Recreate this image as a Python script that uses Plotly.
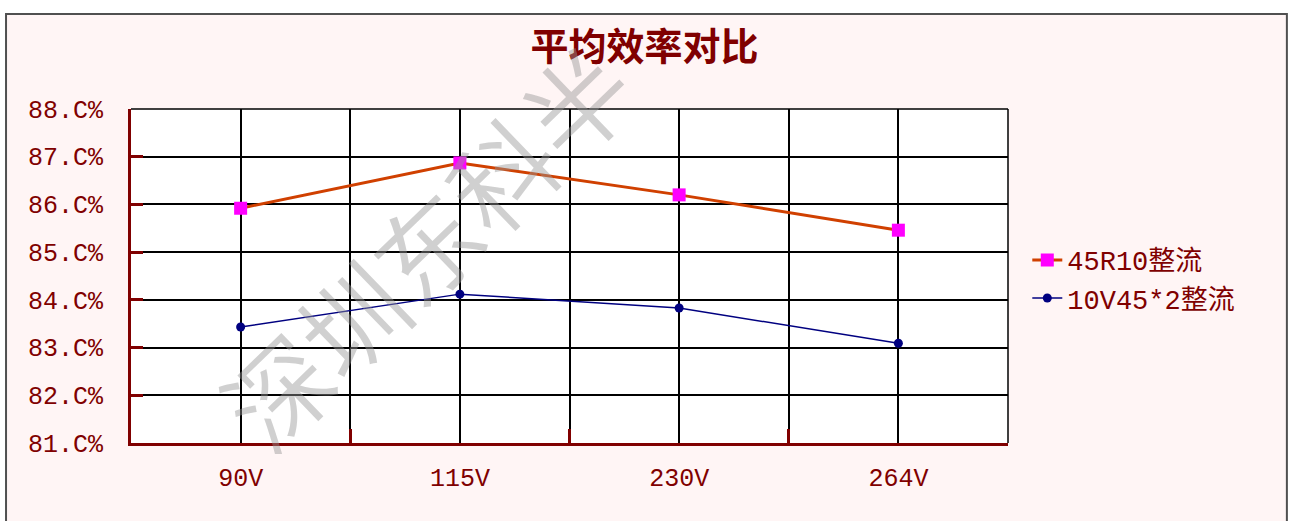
import plotly.graph_objects as go

# Input voltage categories and average efficiency (%) for the two rectifier setups
categories = ["90V", "115V", "230V", "264V"]
eff_45r10 = [85.92, 86.87, 86.20, 85.46]
eff_10v45x2 = [83.43, 84.12, 83.83, 83.09]
series_names = ["45R10整流", "10V45*2整流"]
y_ticks = [81, 82, 83, 84, 85, 86, 87, 88]
y_tick_labels = [f"{v}.C%" for v in y_ticks]
title_text = "平均效率对比"
watermark_text = "深圳东科半"

DARK_RED = "#800000"
PINK_BG = "#FFF5F5"
MONO = "Liberation Mono, 'Noto Sans CJK SC', monospace"

# each category sits in the middle of a pair of grid cells
x_pos = [2 * i + 1 for i in range(len(categories))]
x_max = 2 * len(categories)

fig = go.Figure()
fig.add_trace(go.Scatter(
    x=x_pos, y=eff_45r10, name=series_names[0], mode="lines+markers",
    line=dict(color="#D04000", width=3),
    marker=dict(symbol="square", size=13, color="#FF00FF"),
))
fig.add_trace(go.Scatter(
    x=x_pos, y=eff_10v45x2, name=series_names[1], mode="lines+markers",
    line=dict(color="#000080", width=1.5),
    marker=dict(symbol="circle", size=9, color="#000080"),
))

fig.update_layout(
    width=1289, height=521,
    margin=dict(l=131, r=281, t=109, b=78),
    paper_bgcolor="white",
    plot_bgcolor="rgba(0,0,0,0)",
    title=dict(text=f"<b>{title_text}</b>", x=0.5, xref="container", xanchor="center",
               y=1 - 47 / 521, yref="container", yanchor="middle",
               font=dict(family="'Noto Sans CJK SC'", size=38, color=DARK_RED)),
    showlegend=True,
    legend=dict(x=1.022, xanchor="left", y=0.49, yanchor="middle",
                bgcolor="rgba(0,0,0,0)", borderwidth=0, tracegroupgap=0,
                font=dict(family=MONO, size=27, color=DARK_RED)),
    xaxis=dict(
        range=[0, x_max], tickmode="array", tickvals=x_pos, ticktext=categories,
        showgrid=True, gridcolor="black", gridwidth=1.5, ticks="",
        showline=True, linecolor=DARK_RED, linewidth=3, zeroline=False,
        ticklabelstandoff=10,
        tickfont=dict(family=MONO, size=25, color=DARK_RED),
        minor=dict(tickmode="array", tickvals=list(range(2, x_max, 2)),
                   ticks="inside", ticklen=14, tickwidth=3, tickcolor=DARK_RED,
                   showgrid=True, gridcolor="black", gridwidth=1.5),
        fixedrange=True,
    ),
    yaxis=dict(
        range=[y_ticks[0], y_ticks[-1]], tickmode="array", tickvals=y_ticks,
        ticktext=y_tick_labels,
        showgrid=True, gridcolor="black", gridwidth=1.5,
        ticks="inside", ticklen=12, tickwidth=3, tickcolor=DARK_RED,
        showline=True, linecolor=DARK_RED, linewidth=3, zeroline=False,
        ticklabelstandoff=20,
        tickfont=dict(family=MONO, size=25, color=DARK_RED),
        fixedrange=True,
    ),
    shapes=[
        # outer chart frame with its pale pink fill
        dict(type="rect", xref="paper", yref="paper",
             x0=-0.1425, x1=1.318, y0=-0.5, y1=1.2844,
             fillcolor=PINK_BG, line=dict(color="#505050", width=2), layer="below"),
        # white plotting area
        dict(type="rect", xref="paper", yref="paper", x0=0, x1=1, y0=0, y1=1,
             fillcolor="white", line=dict(width=0), layer="below"),
        # black top and right borders of the plotting area
        dict(type="line", xref="paper", yref="paper", x0=0, x1=1, y0=1, y1=1,
             line=dict(color="black", width=1.5)),
        dict(type="line", xref="paper", yref="paper", x0=1, x1=1, y0=0, y1=1,
             line=dict(color="black", width=1.5)),
    ],
    annotations=[
        dict(text=watermark_text, xref="paper", yref="paper",
             x=0.335, y=0.593, xanchor="center", yanchor="middle",
             textangle=-44, showarrow=False,
             font=dict(family="'Noto Sans CJK SC'", size=104, weight=350,
                       color="rgba(150,150,150,0.45)")),
    ],
)

fig.write_html("out.html")
